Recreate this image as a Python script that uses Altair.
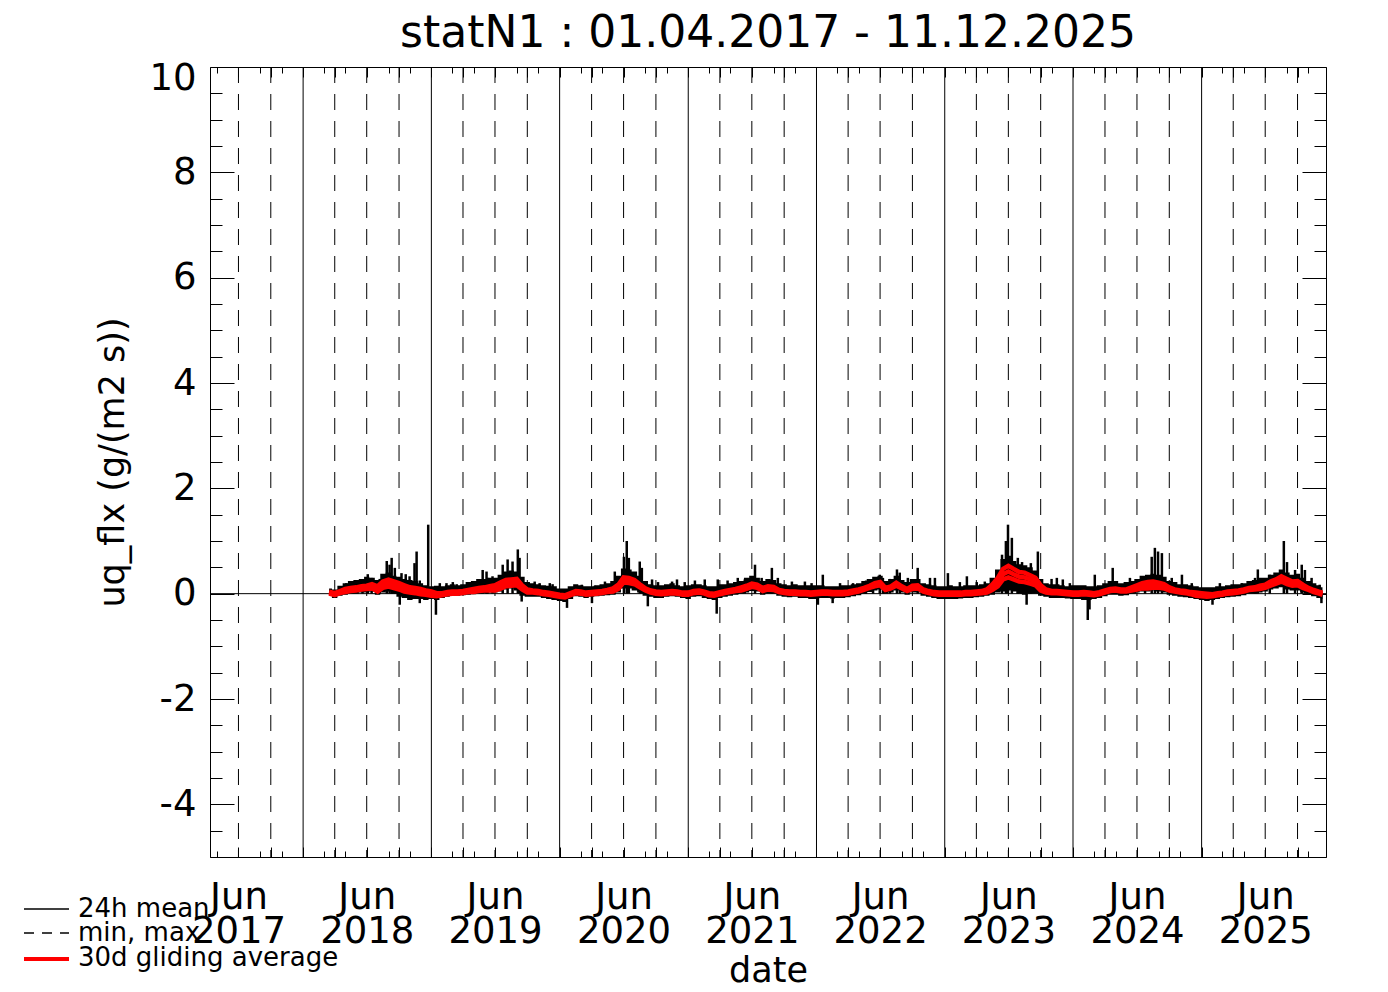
import altair as alt
import pandas as pd

W, H = 1116, 790
FONT = "DejaVu Sans"

TITLE = "statN1 : 01.04.2017 - 11.12.2025"
Y_TITLE = "uq_flx (g/(m2 s))"
X_TITLE = "date"
LEGEND_LABELS = ["24h mean", "min, max", "30d gliding average"]

X_DOMAIN = [(2017, 4, 11), (2025, 12, 21)]
Y_DOMAIN = [-5, 10]
LABEL_YEARS = list(range(2017, 2026))
GRID_YEARS = list(range(2018, 2026))
Y_MAJOR = [-4, -2, 0, 2, 4, 6, 8, 10]
Y_TICKS = [-5 + 0.5 * k for k in range(31)]

# 30d gliding average (centre line) at the 1st and 16th of every month
mid_2018 = [0.02, -0.01, 0.03, 0.06, 0.08, 0.09, 0.11, 0.12, 0.14, 0.09, 0.17, 0.20, 0.17, 0.14, 0.10, 0.07, 0.06, 0.04, 0.02]
mid_2019 = [0.00, -0.02, -0.01, 0.01, 0.02, 0.02, 0.03, 0.05, 0.06, 0.08, 0.09, 0.10, 0.11, 0.15, 0.20, 0.21, 0.22, 0.12, 0.05, 0.04, 0.03, 0.01, 0.00, -0.02]
mid_2020 = [-0.04, -0.05, -0.01, 0.03, 0.02, 0.00, 0.01, 0.02, 0.03, 0.05, 0.07, 0.13, 0.26, 0.25, 0.22, 0.15, 0.08, 0.04, 0.02, 0.01, 0.02, 0.03, 0.02, 0.00]
mid_2021 = [0.00, 0.03, 0.04, 0.02, -0.01, -0.02, 0.01, 0.03, 0.05, 0.07, 0.09, 0.12, 0.16, 0.14, 0.08, 0.11, 0.10, 0.05, 0.03, 0.02, 0.02, 0.01, 0.01, 0.00]
mid_2022 = [0.01, 0.02, 0.02, 0.01, 0.01, 0.01, 0.02, 0.04, 0.06, 0.09, 0.13, 0.17, 0.19, 0.09, 0.12, 0.18, 0.12, 0.07, 0.12, 0.13, 0.06, 0.03, 0.01, 0.00]
mid_2023 = [0.00, 0.00, 0.00, 0.00, 0.01, 0.01, 0.02, 0.03, 0.05, 0.12, 0.22, 0.37, 0.42, 0.37, 0.32, 0.31, 0.27, 0.23, 0.11, 0.05, 0.03, 0.03, 0.02, 0.01]
mid_2024 = [0.00, 0.00, 0.01, 0.00, -0.01, 0.01, 0.04, 0.07, 0.08, 0.06, 0.06, 0.09, 0.12, 0.15, 0.16, 0.17, 0.16, 0.14, 0.09, 0.06, 0.04, 0.03, 0.01, -0.01]
mid_2025 = [-0.02, -0.03, -0.03, -0.01, 0.00, 0.02, 0.03, 0.04, 0.06, 0.09, 0.10, 0.12, 0.14, 0.19, 0.23, 0.28, 0.23, 0.19, 0.20, 0.14, 0.09, 0.05, 0.02, 0.00]

# half distance between the upper / lower red curves
sp_2018 = [0.02, 0.02, 0.02, 0.03, 0.03, 0.03, 0.03, 0.03, 0.04, 0.05, 0.06, 0.065, 0.065, 0.06, 0.06, 0.05, 0.05, 0.05, 0.04]
sp_2019 = [0.04, 0.03, 0.02, 0.02, 0.02, 0.02, 0.02, 0.02, 0.03, 0.03, 0.03, 0.04, 0.05, 0.06, 0.06, 0.06, 0.06, 0.04, 0.03, 0.02, 0.02, 0.02, 0.02, 0.02]
sp_2020 = [0.02, 0.02, 0.02, 0.02, 0.02, 0.02, 0.02, 0.02, 0.02, 0.02, 0.03, 0.04, 0.05, 0.05, 0.04, 0.03, 0.02, 0.02, 0.02, 0.02, 0.02, 0.02, 0.02, 0.02]
sp_2021 = [0.02, 0.02, 0.02, 0.02, 0.02, 0.02, 0.02, 0.02, 0.02, 0.02, 0.03, 0.03, 0.03, 0.03, 0.03, 0.03, 0.03, 0.02, 0.02, 0.02, 0.02, 0.02, 0.02, 0.02]
sp_2022 = [0.02, 0.02, 0.02, 0.02, 0.02, 0.02, 0.02, 0.02, 0.02, 0.02, 0.02, 0.03, 0.03, 0.02, 0.02, 0.03, 0.02, 0.02, 0.03, 0.03, 0.02, 0.02, 0.02, 0.02]
sp_2023 = [0.02, 0.02, 0.02, 0.02, 0.02, 0.02, 0.02, 0.02, 0.03, 0.05, 0.08, 0.10, 0.11, 0.10, 0.09, 0.09, 0.08, 0.07, 0.05, 0.03, 0.02, 0.02, 0.02, 0.02]
sp_2024 = [0.02, 0.02, 0.02, 0.02, 0.02, 0.02, 0.02, 0.02, 0.02, 0.02, 0.02, 0.03, 0.04, 0.05, 0.06, 0.06, 0.05, 0.04, 0.03, 0.02, 0.02, 0.02, 0.02, 0.03]
sp_2025 = [0.03, 0.03, 0.02, 0.02, 0.02, 0.02, 0.02, 0.02, 0.02, 0.02, 0.02, 0.03, 0.03, 0.04, 0.04, 0.05, 0.05, 0.04, 0.04, 0.03, 0.02, 0.02, 0.02, 0.02]

# daily values: typical upper (max) and lower (min) envelope
hi_2018 = [0.10, 0.08, 0.15, 0.20, 0.24, 0.26, 0.28, 0.32, 0.30, 0.26, 0.38, 0.40, 0.34, 0.32, 0.28, 0.26, 0.24, 0.20, 0.16]
hi_2019 = [0.14, 0.15, 0.14, 0.16, 0.18, 0.16, 0.18, 0.22, 0.24, 0.28, 0.28, 0.30, 0.30, 0.36, 0.42, 0.44, 0.42, 0.32, 0.22, 0.20, 0.18, 0.16, 0.15, 0.14]
hi_2020 = [0.10, 0.10, 0.14, 0.18, 0.16, 0.14, 0.14, 0.16, 0.18, 0.20, 0.24, 0.34, 0.48, 0.46, 0.42, 0.34, 0.24, 0.18, 0.16, 0.16, 0.18, 0.20, 0.16, 0.14]
hi_2021 = [0.16, 0.18, 0.18, 0.16, 0.14, 0.14, 0.18, 0.18, 0.20, 0.22, 0.24, 0.30, 0.34, 0.30, 0.24, 0.28, 0.26, 0.20, 0.18, 0.16, 0.18, 0.16, 0.16, 0.16]
hi_2022 = [0.16, 0.16, 0.14, 0.14, 0.14, 0.16, 0.16, 0.18, 0.20, 0.24, 0.28, 0.32, 0.34, 0.24, 0.28, 0.34, 0.26, 0.22, 0.28, 0.28, 0.20, 0.18, 0.16, 0.14]
hi_2023 = [0.14, 0.16, 0.14, 0.14, 0.16, 0.16, 0.16, 0.18, 0.20, 0.30, 0.46, 0.66, 0.72, 0.62, 0.56, 0.54, 0.50, 0.44, 0.28, 0.20, 0.18, 0.18, 0.16, 0.14]
hi_2024 = [0.16, 0.16, 0.16, 0.14, 0.14, 0.16, 0.20, 0.24, 0.24, 0.20, 0.22, 0.24, 0.28, 0.34, 0.36, 0.38, 0.36, 0.32, 0.24, 0.22, 0.18, 0.18, 0.16, 0.14]
hi_2025 = [0.12, 0.12, 0.12, 0.14, 0.14, 0.16, 0.18, 0.18, 0.20, 0.24, 0.26, 0.30, 0.30, 0.36, 0.40, 0.46, 0.40, 0.36, 0.38, 0.30, 0.24, 0.20, 0.16, 0.12]

lo_2018 = [-0.04, -0.08, -0.04, -0.02, 0.00, 0.00, 0.02, 0.02, 0.04, -0.02, 0.02, 0.04, 0.00, -0.06, -0.08, -0.12, -0.10, -0.10, -0.12]
lo_2019 = [-0.10, -0.12, -0.08, -0.06, -0.04, -0.04, -0.03, -0.02, -0.01, 0.00, 0.01, 0.02, 0.02, 0.04, 0.08, 0.10, 0.06, -0.04, -0.06, -0.06, -0.06, -0.08, -0.10, -0.12]
lo_2020 = [-0.14, -0.16, -0.10, -0.05, -0.06, -0.08, -0.06, -0.05, -0.04, -0.03, -0.02, 0.02, 0.10, 0.10, 0.06, 0.02, -0.04, -0.06, -0.08, -0.08, -0.06, -0.05, -0.06, -0.08]
lo_2021 = [-0.10, -0.06, -0.05, -0.08, -0.10, -0.12, -0.08, -0.06, -0.04, -0.02, 0.00, 0.02, 0.05, 0.04, -0.02, 0.00, 0.00, -0.04, -0.06, -0.07, -0.06, -0.08, -0.08, -0.10]
lo_2022 = [-0.10, -0.08, -0.08, -0.09, -0.08, -0.08, -0.07, -0.05, -0.03, 0.00, 0.03, 0.06, 0.08, 0.00, 0.02, 0.06, 0.02, -0.02, 0.02, 0.02, -0.04, -0.06, -0.08, -0.10]
lo_2023 = [-0.10, -0.10, -0.10, -0.09, -0.08, -0.08, -0.07, -0.06, -0.04, -0.02, 0.02, 0.04, 0.06, 0.04, 0.00, -0.02, 0.00, 0.00, -0.04, -0.06, -0.08, -0.08, -0.08, -0.09]
lo_2024 = [-0.10, -0.10, -0.12, -0.12, -0.10, -0.08, -0.05, -0.02, -0.02, -0.04, -0.03, 0.00, 0.02, 0.04, 0.04, 0.06, 0.04, 0.02, -0.02, -0.04, -0.06, -0.07, -0.08, -0.10]
lo_2025 = [-0.12, -0.14, -0.12, -0.10, -0.08, -0.07, -0.06, -0.05, -0.03, 0.00, 0.00, 0.02, 0.04, 0.08, 0.10, 0.12, 0.08, 0.06, 0.06, 0.02, -0.02, -0.05, -0.08, -0.10]

# isolated daily maxima (spikes) and minima (dips)
spike_dates = [
    "2018-05-04", "2018-06-19", "2018-07-04", "2018-07-15", "2018-08-07", "2018-08-27", "2018-09-04", "2018-09-10", "2018-09-19", "2018-09-27",
    "2018-10-08", "2018-10-20", "2018-10-31", "2018-11-14", "2018-11-20", "2018-11-29", "2018-12-23",
    "2019-01-25", "2019-02-13", "2019-03-03", "2019-03-14", "2019-04-29", "2019-05-27", "2019-06-07", "2019-06-10", "2019-06-24",
    "2019-07-23", "2019-08-06", "2019-08-20", "2019-09-04", "2019-09-09", "2019-10-02", "2019-10-22", "2019-11-05", "2019-12-04", "2019-12-12",
    "2020-03-04", "2020-04-10", "2020-05-09", "2020-06-06", "2020-07-02", "2020-07-10", "2020-07-16", "2020-08-16", "2020-08-22",
    "2020-09-20", "2020-10-07", "2020-11-16", "2020-11-30", "2020-12-22",
    "2021-01-20", "2021-02-17", "2021-03-26", "2021-04-23", "2021-05-22", "2021-06-11", "2021-07-10", "2021-07-29", "2021-08-27",
    "2021-09-13", "2021-10-23", "2021-11-29", "2021-12-18",
    "2022-01-19", "2022-03-09", "2022-04-15", "2022-05-22", "2022-06-11", "2022-06-30", "2022-07-09", "2022-07-29", "2022-08-18",
    "2022-08-26", "2022-09-18", "2022-10-16", "2022-11-20", "2022-12-04",
    "2023-01-10", "2023-02-13", "2023-03-05", "2023-04-02", "2023-04-25", "2023-06-13", "2023-06-24", "2023-06-30", "2023-07-11",
    "2023-07-28", "2023-08-09", "2023-09-03", "2023-09-23", "2023-11-01", "2023-11-16", "2023-12-03", "2023-12-23",
    "2024-03-03", "2024-04-23", "2024-06-11", "2024-06-25", "2024-07-24", "2024-08-12", "2024-08-21", "2024-08-30", "2024-09-10",
    "2024-10-08", "2024-11-06", "2024-12-04",
    "2025-02-22", "2025-04-25", "2025-06-02", "2025-06-10", "2025-07-14", "2025-08-23", "2025-09-01", "2025-09-24", "2025-10-13",
    "2025-10-22", "2025-11-10", "2025-12-03"]
spike_tops = [
    0.20, 0.26, 0.37, 0.30, 0.28, 0.62, 0.55, 0.68, 0.49, 0.30,
    0.39, 0.37, 0.33, 0.58, 0.80, 0.25, 1.31,
    0.20, 0.20, 0.22, 0.18, 0.20, 0.45, 0.42, 0.30, 0.33,
    0.55, 0.65, 0.61, 0.84, 0.68, 0.22, 0.23, 0.20, 0.20, 0.18,
    0.17, 0.15, 0.23, 0.42, 0.70, 1.00, 0.68, 0.61, 0.49,
    0.27, 0.22, 0.23, 0.27, 0.22,
    0.25, 0.27, 0.27, 0.25, 0.30, 0.27, 0.55, 0.30, 0.49,
    0.30, 0.23, 0.23, 0.20,
    0.36, 0.20, 0.20, 0.25, 0.25, 0.36, 0.30, 0.28, 0.46,
    0.40, 0.30, 0.49, 0.30, 0.30,
    0.39, 0.22, 0.33, 0.22, 0.23, 0.74, 1.00, 1.31, 1.06,
    0.68, 0.60, 0.58, 0.80, 0.28, 0.30, 0.27, 0.20,
    0.36, 0.49, 0.30, 0.22, 0.33, 0.70, 0.87, 0.80, 0.77,
    0.30, 0.36, 0.20,
    0.20, 0.20, 0.30, 0.46, 0.36, 1.00, 0.60, 0.45, 0.55,
    0.45, 0.30, 0.17]
dip_dates = ["2018-10-03", "2018-11-29", "2019-01-14", "2019-09-15", "2020-01-22", "2020-04-02", "2020-09-08",
             "2021-03-23", "2022-01-05", "2022-02-16", "2023-08-22", "2024-02-12", "2024-02-17", "2025-02-01", "2025-12-08"]
dip_bottoms = [-0.21, -0.18, -0.40, -0.15, -0.27, -0.18, -0.24, -0.38, -0.21, -0.18, -0.21, -0.50, -0.30, -0.21, -0.18]

red_mid = mid_2018 + mid_2019 + mid_2020 + mid_2021 + mid_2022 + mid_2023 + mid_2024 + mid_2025
red_sp = sp_2018 + sp_2019 + sp_2020 + sp_2021 + sp_2022 + sp_2023 + sp_2024 + sp_2025
blk_hi = hi_2018 + hi_2019 + hi_2020 + hi_2021 + hi_2022 + hi_2023 + hi_2024 + hi_2025
blk_lo = lo_2018 + lo_2019 + lo_2020 + lo_2021 + lo_2022 + lo_2023 + lo_2024 + lo_2025

# sampling dates: 1st and 16th of each month
dates = ["2018-03-16"]
for yy in range(2018, 2026):
    for mm in range(1, 13):
        if yy == 2018 and mm < 4:
            continue
        dates.append(f"{yy}-{mm:02d}-01")
        dates.append("2025-12-11" if (yy == 2025 and mm == 12) else f"{yy}-{mm:02d}-16")

assert len(dates) == len(red_mid) == len(red_sp) == len(blk_hi) == len(blk_lo)
assert len(spike_dates) == len(spike_tops) and len(dip_dates) == len(dip_bottoms)

band_df = pd.DataFrame({"date": dates, "lo": blk_lo, "hi": blk_hi})
rows = []
for d, m, s in zip(dates, red_mid, red_sp):
    rows.append({"date": d, "series": "upper", "v": m + s})
    rows.append({"date": d, "series": "mid", "v": m})
    rows.append({"date": d, "series": "lower", "v": m - s})
red_df = pd.DataFrame(rows)
spike_df = pd.DataFrame({"date": spike_dates, "top": spike_tops})
dip_df = pd.DataFrame({"date": dip_dates, "bottom": dip_bottoms})


def dt(y, m, d):
    return alt.DateTime(year=y, month=m, date=d, utc=True)


def in_range(y, m):
    return (y, m, 1) > X_DOMAIN[0] and (y, m, 1) < X_DOMAIN[1]


year_df = pd.DataFrame({"date": [f"{y}-01-01" for y in GRID_YEARS]})
quarter_df = pd.DataFrame({"date": [f"{y}-{m:02d}-01" for y in LABEL_YEARS for m in (4, 7, 10) if in_range(y, m)]})
label_vals = [dt(y, 7, 1) for y in LABEL_YEARS]
xtick_vals = [dt(y, m, 1) for y in LABEL_YEARS for m in (1, 3, 4, 5, 7, 9, 10, 11) if in_range(y, m)]

xs = alt.Scale(type="utc", domain=[dt(*X_DOMAIN[0]), dt(*X_DOMAIN[1])])
ys = alt.Scale(domain=Y_DOMAIN, nice=False, zero=False)

xtick_size = {"condition": {"test": "utcmonth(datum.value) % 3 == 0", "value": 10}, "value": 6}
ytick_size = {"condition": {"test": "datum.value % 2 == 0", "value": 24}, "value": 12}

ax_x_labels = alt.Axis(
    orient="bottom", values=label_vals, labelExpr="['Jun', utcFormat(datum.value, '%Y')]",
    ticks=False, domain=False, grid=False, labelFont=FONT, labelFontSize=37, labelColor="black",
    labelPadding=22, labelLineHeight=34, labelBaseline="top", labelAlign="center",
    labelOverlap=False, labelFlush=False, labelBound=False,
    title=X_TITLE, titleFont=FONT, titleFontSize=35, titleFontWeight="normal", titleColor="black",
    titleX=W / 2, titleY=124, titleAlign="center", titleBaseline="alphabetic")
ax_x_bottom_ticks = alt.Axis(orient="top", offset=-H, values=xtick_vals, labels=False, domain=False,
                             grid=False, tickColor="black", tickWidth=1, tickSize=xtick_size, title=None)
ax_x_top_ticks = alt.Axis(orient="bottom", offset=-H, values=xtick_vals, labels=False, domain=False,
                          grid=False, tickColor="black", tickWidth=1, tickSize=xtick_size, title=None)

ax_y_labels = alt.Axis(
    orient="left", values=Y_MAJOR, ticks=False, domain=False, grid=False,
    labelExpr="'' + datum.value",
    labelFont=FONT, labelFontSize=37, labelColor="black", labelPadding=14,
    labelFlush=True, labelFlushOffset=7, labelOverlap=False,
    title=Y_TITLE, titleFont=FONT, titleFontSize=35, titleFontWeight="normal", titleColor="black",
    titleAngle=270, titleX=-98, titleY=H / 2, titleAlign="center", titleBaseline="middle")
ax_y_left_ticks = alt.Axis(orient="right", offset=-W, values=Y_TICKS, labels=False, domain=False,
                           grid=False, tickColor="black", tickWidth=1, tickSize=ytick_size, title=None)
ax_y_right_ticks = alt.Axis(orient="left", offset=-W, values=Y_TICKS, labels=False, domain=False,
                            grid=False, tickColor="black", tickWidth=1, tickSize=ytick_size, title=None)

years_layer = alt.Chart(year_df).mark_rule(color="black", strokeWidth=1).encode(
    x=alt.X("date:T", scale=xs, axis=ax_x_labels))
quarters_layer = alt.Chart(quarter_df).mark_rule(color="black", strokeWidth=1, strokeDash=[16, 11]).encode(
    x=alt.X("date:T", scale=xs, axis=ax_x_bottom_ticks))
zero_layer = alt.Chart(pd.DataFrame({"v": [0]})).mark_rule(color="black", strokeWidth=1).encode(
    y=alt.Y("v:Q", scale=ys, axis=ax_y_labels))
band_layer = alt.Chart(band_df).mark_area(color="black", opacity=1, interpolate="step").encode(
    x=alt.X("date:T", scale=xs, axis=ax_x_top_ticks),
    y=alt.Y("lo:Q", scale=ys, axis=ax_y_left_ticks), y2="hi:Q")
spike_layer = alt.Chart(spike_df).mark_rule(color="black", strokeWidth=2.5).encode(
    x=alt.X("date:T", scale=xs, axis=None),
    y=alt.Y("top:Q", scale=ys, axis=ax_y_right_ticks), y2=alt.datum(0))
dip_layer = alt.Chart(dip_df).mark_rule(color="black", strokeWidth=2.5).encode(
    x=alt.X("date:T", scale=xs, axis=None),
    y=alt.Y("bottom:Q", scale=ys, axis=None), y2=alt.datum(0))
red_layer = alt.Chart(red_df).mark_line(color="red", strokeWidth=4.5).encode(
    x=alt.X("date:T", scale=xs, axis=None),
    y=alt.Y("v:Q", scale=ys, axis=None), detail="series:N")

title_layer = alt.Chart(pd.DataFrame({"t": [TITLE]})).mark_text(
    align="center", baseline="alphabetic", font=FONT, fontSize=44, color="black").encode(
    x=alt.value(W / 2), y=alt.value(-20), text="t:N")

# legend (drawn below the plot, left side)
leg_y = [842, 866, 892]
leg_text_y = [850, 874, 899]
leg_styles = [dict(color="black", strokeWidth=1.5), dict(color="black", strokeWidth=1.5, strokeDash=[10, 8]),
              dict(color="red", strokeWidth=4)]
legend_layers = []
for i, lab in enumerate(LEGEND_LABELS):
    ldf = pd.DataFrame({"label": [lab]})
    legend_layers.append(alt.Chart(ldf).mark_rule(**leg_styles[i]).encode(
        x=alt.value(-186), x2=alt.value(-141), y=alt.value(leg_y[i])))
    legend_layers.append(alt.Chart(ldf).mark_text(
        align="left", baseline="alphabetic", font=FONT, fontSize=26, color="black").encode(
        x=alt.value(-132), y=alt.value(leg_text_y[i]), text="label:N"))

chart = alt.layer(
    years_layer, quarters_layer, zero_layer, band_layer, spike_layer, dip_layer, red_layer,
    title_layer, *legend_layers
).resolve_axis(x="independent", y="independent").properties(
    width=W, height=H,
    autosize=alt.AutoSizeParams(type="none"),
    padding={"left": 202, "top": 59, "right": 40, "bottom": 127},
).configure(font=FONT, background="white").configure_view(stroke="black", strokeWidth=1)

chart.save("out.html", embed_options={"renderer": "svg", "actions": False})
